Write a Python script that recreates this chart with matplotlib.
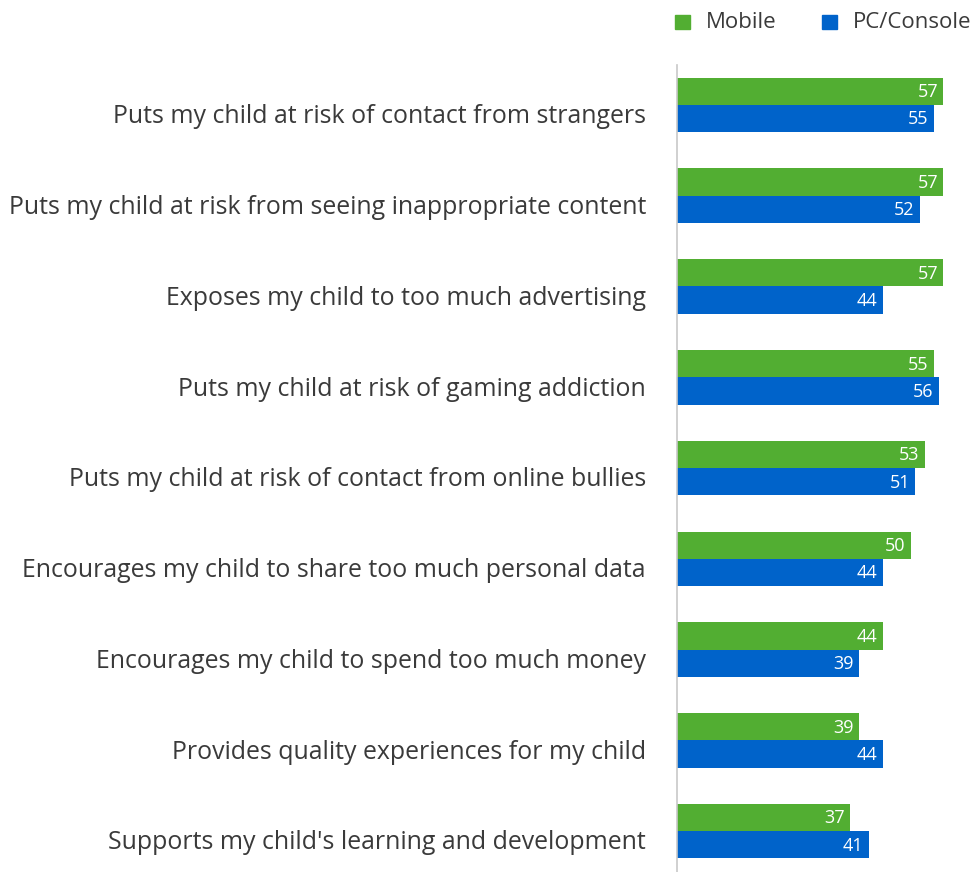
import numpy as np
import matplotlib
matplotlib.use("Agg")
import matplotlib.pyplot as plt

categories = [
    "Puts my child at risk of contact from strangers",
    "Puts my child at risk from seeing inappropriate content",
    "Exposes my child to too much advertising",
    "Puts my child at risk of gaming addiction",
    "Puts my child at risk of contact from online bullies",
    "Encourages my child to share too much personal data",
    "Encourages my child to spend too much money",
    "Provides quality experiences for my child",
    "Supports my child's learning and development",
]
mobile = [57, 57, 57, 55, 53, 50, 44, 39, 37]
pc_console = [55, 52, 44, 56, 51, 44, 39, 44, 41]

green = "#52ae32"
blue = "#0063ca"
text_col = "#3a3a3a"
font = "Open Sans"

fig = plt.figure(figsize=(9.75, 8.72), dpi=100)
ax = fig.add_axes([677 / 975, 0.0, 1 - 677 / 975, 1 - 65 / 872])

y = np.arange(len(categories))
h = 0.3
b1 = ax.barh(y - h / 2, mobile, height=h, color=green)
b2 = ax.barh(y + h / 2, pc_console, height=h, color=blue)

for bars, vals in ((b1, mobile), (b2, pc_console)):
    for bar, v in zip(bars, vals):
        ax.text(v - 1.1, bar.get_y() + bar.get_height() / 2 + 0.01, str(v),
                ha="right", va="center", color="white", fontsize=13,
                family=font)

# category labels sit a little below the middle of each pair
for yi, cat in zip(y, categories):
    ax.text(-31 / 4.67, yi + 0.13, cat, ha="right", va="center",
            fontsize=17.9, color=text_col, family=font)

ax.set_xlim(0, 63.8)
ax.set_ylim(8.45, -0.44)
ax.set_yticks([])
ax.set_xticks([])
for s in ("top", "right", "bottom"):
    ax.spines[s].set_visible(False)
ax.spines["left"].set_color("#c8c8c8")
ax.spines["left"].set_linewidth(1.2)

# legend drawn by hand at the top right
for xs, label, c in ((675, "Mobile", green), (822, "PC/Console", blue)):
    fig.patches.append(plt.Rectangle((xs / 975, 1 - 29 / 872), 15 / 975, 14 / 872,
                                     transform=fig.transFigure, color=c))
    fig.text((xs + 31) / 975, 1 - 22 / 872, label, fontsize=16, color=text_col,
             va="center", ha="left", family=font)

fig.savefig("out.png", dpi=100)
